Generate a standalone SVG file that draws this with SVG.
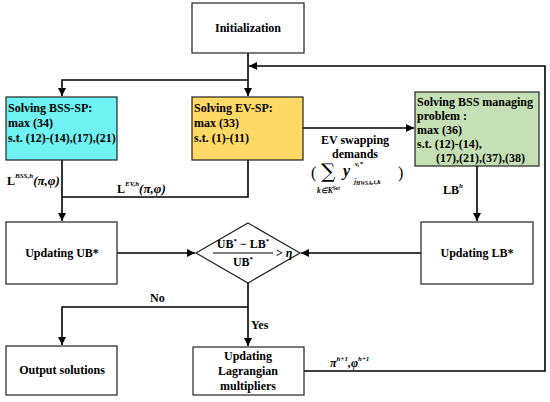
<svg xmlns="http://www.w3.org/2000/svg" width="550" height="402" viewBox="0 0 550 402">
<defs>
<style>
.box{stroke:#222;stroke-width:1.2}
.t{font-family:"Liberation Serif","Times New Roman",serif;font-weight:bold;font-size:12px;fill:#000}
.m{font-family:"Liberation Serif","Times New Roman",serif;font-weight:bold;font-style:italic;fill:#000}
.c{fill:none;stroke:#000;stroke-width:1.6}
</style>
<marker id="ah" viewBox="0 0 10 10" refX="10" refY="5" markerWidth="8" markerHeight="8" markerUnits="userSpaceOnUse" orient="auto">
<path d="M0,0 L10,5 L0,10 z" fill="#000"/>
</marker>
</defs>
<rect width="550" height="402" fill="#fff"/>

<g id="connectors">
<path class="c" d="M248,53 V96" marker-end="url(#ah)"/>
<path class="c" d="M248,80 H62 V96" marker-end="url(#ah)"/>
<path class="c" d="M303,128 H414" marker-end="url(#ah)"/>
<path class="c" d="M62,160 V221" marker-end="url(#ah)"/>
<path class="c" d="M248,160 V197 H62"/>
<path class="c" d="M477,166 V221" marker-end="url(#ah)"/>
<path class="c" d="M117,253 H195" marker-end="url(#ah)"/>
<path class="c" d="M421,253 H301" marker-end="url(#ah)"/>
<path class="c" d="M248,283 V346" marker-end="url(#ah)"/>
<path class="c" d="M248,307 H62 V345" marker-end="url(#ah)"/>
<path class="c" d="M304,371 H545 V66 H249" marker-end="url(#ah)"/>
<text class="t" x="7" y="185">L<tspan class="m" font-size="7" dy="-7">BSS,h</tspan><tspan class="m" font-size="13" dy="7">(π,φ)</tspan></text>
<text class="t" x="117" y="193">L<tspan class="m" font-size="7" dy="-7">EV,h</tspan><tspan class="m" font-size="13" dy="7">(π,φ)</tspan></text>
<text class="t" x="355" y="144" text-anchor="middle">EV swapping</text>
<text class="t" x="355" y="158" text-anchor="middle">demands</text>
<text x="311" y="178" font-family="Liberation Serif,serif" font-size="16">(</text>
<text x="321" y="178" font-family="DejaVu Serif,serif" font-size="20">∑</text>
<text class="m" x="317" y="193" font-size="7.5">k∈K<tspan font-size="5.5" dy="-3">Set</tspan></text>
<text class="m" x="343" y="176" font-size="16">y</text>
<text class="m" x="355" y="166" font-size="7">v,*</text>
<text class="m" x="354" y="184" font-size="7">j̃<tspan font-size="5.5" dy="1">HWSA</tspan><tspan dy="-1">,t,k</tspan></text>
<text x="398" y="178" font-family="Liberation Serif,serif" font-size="16">)</text>
<text class="t" x="443" y="194">LB<tspan class="m" font-size="7" dy="-6">h</tspan></text>
<text class="t" x="150" y="302">No</text>
<text class="t" x="251" y="329">Yes</text>
<text class="m" x="330" y="367" font-size="12">π<tspan font-size="7" dy="-6">h+1</tspan><tspan dy="6">,φ</tspan><tspan font-size="7" dy="-6">h+1</tspan></text>
</g>

<g id="init">
<rect class="box" x="192" y="3" width="112" height="50" fill="#fff"/>
<text class="t" x="248" y="32" text-anchor="middle">Initialization</text>
</g>

<g id="bss-sp">
<rect class="box" x="6" y="97" width="111" height="63" fill="#6ff2f2"/>
<text class="t" x="8" y="112">Solving BSS-SP:</text>
<text class="t" x="8" y="127">max (34)</text>
<text class="t" x="8" y="142">s.t. (12)-(14),(17),(21)</text>
</g>

<g id="ev-sp">
<rect class="box" x="192" y="97" width="111" height="63" fill="#ffd966"/>
<text class="t" x="194" y="112">Solving EV-SP:</text>
<text class="t" x="194" y="127">max (33)</text>
<text class="t" x="194" y="142">s.t. (1)-(11)</text>
</g>

<g id="bss-managing">
<rect class="box" x="415" y="92" width="124" height="74" fill="#c5e0b4"/>
<text class="t" x="417" y="106">Solving BSS managing</text>
<text class="t" x="417" y="120">problem :</text>
<text class="t" x="417" y="134">max (36)</text>
<text class="t" x="417" y="148">s.t. (12)-(14),</text>
<text class="t" x="436" y="162">(17),(21),(37),(38)</text>
</g>

<g id="update-ub">
<rect class="box" x="6" y="222" width="111" height="62" fill="#fff"/>
<text class="t" x="62" y="257" text-anchor="middle">Updating UB*</text>
</g>

<g id="decision">
<path class="box" d="M248,223 L300,253 L248,283 L196,253 Z" fill="#fff"/>
<text class="t" x="243" y="248" text-anchor="middle">UB<tspan font-size="7" dy="-5">*</tspan><tspan dy="5"> − LB</tspan><tspan font-size="7" dy="-5">*</tspan></text>
<line x1="213" y1="253" x2="273" y2="253" stroke="#000" stroke-width="1"/>
<text class="t" x="243" y="266" text-anchor="middle">UB<tspan font-size="7" dy="-5">*</tspan></text>
<text class="t" x="276" y="257" font-weight="normal">&gt; <tspan class="m">η</tspan></text>
</g>

<g id="update-lb">
<rect class="box" x="421" y="222" width="112" height="62" fill="#fff"/>
<text class="t" x="477" y="257" text-anchor="middle">Updating LB*</text>
</g>

<g id="output">
<rect class="box" x="6" y="346" width="111" height="49" fill="#fff"/>
<text class="t" x="62" y="374" text-anchor="middle">Output solutions</text>
</g>

<g id="update-lagrange">
<rect class="box" x="193" y="347" width="111" height="48" fill="#fff"/>
<text class="t" x="248" y="360" text-anchor="middle">Updating</text>
<text class="t" x="248" y="375" text-anchor="middle">Lagrangian</text>
<text class="t" x="248" y="390" text-anchor="middle">multipliers</text>
</g>
</svg>
